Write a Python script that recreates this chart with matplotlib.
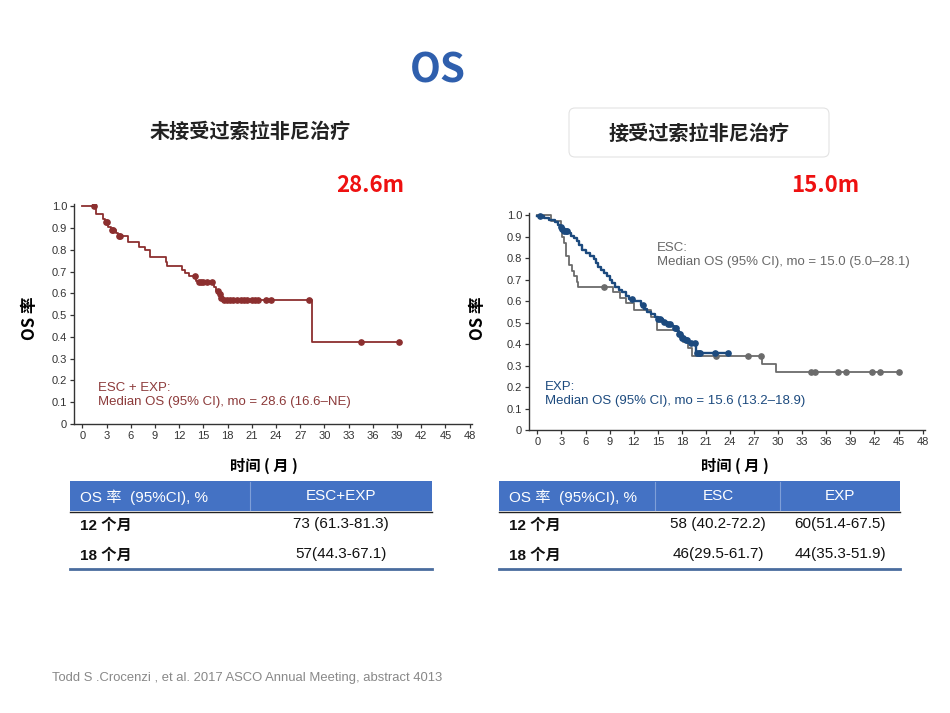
import numpy as np
import matplotlib
matplotlib.use("Agg")
import matplotlib.pyplot as plt
from matplotlib.patches import Rectangle, FancyBboxPatch
from matplotlib.lines import Line2D

plt.rcParams['font.family'] = ['Liberation Sans', 'Noto Sans CJK SC', 'DejaVu Sans']

# ---- data: left panel (ESC + EXP, no prior sorafenib) ----
left_t = [0, 1.7, 2.6, 2.85, 3.2, 3.5, 4.1, 4.4, 5.7, 7.0, 7.8, 8.4, 10.3, 10.5,
          12.3, 12.75, 13.2, 14.1, 14.3, 16.25, 16.6, 16.9, 17.1, 17.3, 28.5, 39.3]
left_s = [1.0, 0.963, 0.943, 0.928, 0.905, 0.889, 0.875, 0.863, 0.835, 0.812, 0.797,
          0.766, 0.743, 0.725, 0.707, 0.695, 0.68, 0.656, 0.65, 0.628, 0.61, 0.595,
          0.58, 0.57, 0.378, 0.378]
left_cens = [1.4, 2.9, 3.05, 3.6, 3.75, 4.5, 4.7, 13.9, 14.4, 14.7, 15.0, 15.4, 16.05,
             16.8, 17.0, 17.2, 17.5, 17.9, 18.3, 18.7, 19.1, 19.6, 20.0, 20.4, 21.0,
             21.4, 21.8, 22.8, 23.4, 28.1, 34.5, 39.25]

# ---- data: right panel (prior sorafenib) ----
esc_t = [0, 1.65, 2.9, 3.1, 3.35, 3.6, 3.95, 4.3, 4.6, 4.95, 5.05, 9.45, 10.3, 11.1,
         12.0, 14.2, 14.9, 17.5, 18.2, 18.8, 19.3, 28.0, 29.7, 45.1]
esc_s = [1.0, 0.975, 0.93, 0.90, 0.87, 0.81, 0.77, 0.74, 0.715, 0.69, 0.667, 0.643,
         0.615, 0.59, 0.56, 0.527, 0.465, 0.44, 0.41, 0.38, 0.345, 0.307, 0.27, 0.27]
esc_cens = [8.3, 22.3, 26.25, 27.8, 34.1, 34.6, 37.4, 38.5, 41.7, 42.7, 45.1]

exp_t = [0, 0.8, 1.5, 2.2, 2.6, 2.8, 3.0, 3.3, 3.9, 4.2, 4.6, 4.9, 5.2, 5.5, 6.0, 6.5,
         7.0, 7.3, 7.6, 7.9, 8.3, 8.7, 9.0, 9.3, 9.7, 10.2, 10.6, 11.0, 11.4, 12.0,
         12.9, 13.3, 13.7, 14.1, 14.6, 15.0, 15.6, 16.2, 16.6, 17.0, 17.4, 17.6, 17.9,
         18.4, 18.9, 19.8, 23.9]
exp_s = [0.995, 0.985, 0.977, 0.969, 0.955, 0.945, 0.935, 0.925, 0.915, 0.905, 0.895,
         0.878, 0.86, 0.84, 0.825, 0.812, 0.795, 0.775, 0.76, 0.745, 0.73, 0.715, 0.70,
         0.685, 0.665, 0.652, 0.64, 0.625, 0.61, 0.60, 0.58, 0.565, 0.55, 0.54, 0.525,
         0.515, 0.505, 0.495, 0.485, 0.475, 0.46, 0.445, 0.43, 0.42, 0.405, 0.357, 0.357]
exp_cens = [0.3, 2.9, 3.1, 3.3, 3.5, 3.7, 11.8, 13.1, 15.0, 15.3, 15.8, 16.3, 16.5,
            17.1, 17.3, 17.6, 17.8, 18.0, 18.2, 18.5, 18.7, 19.2, 19.6, 19.9, 20.1,
            20.3, 22.1, 23.8]

x_ticks = list(range(0, 49, 3))
y_ticks = [0, 0.1, 0.2, 0.3, 0.4, 0.5, 0.6, 0.7, 0.8, 0.9, 1.0]
y_tick_labels = ['0', '0.1', '0.2', '0.3', '0.4', '0.5', '0.6', '0.7', '0.8', '0.9', '1.0']

# ---- table text ----
left_header = ['OS 率  (95%CI), %', 'ESC+EXP']
left_rows = [['12 个月', '73 (61.3-81.3)'], ['18 个月', '57(44.3-67.1)']]
right_header = ['OS 率  (95%CI), %', 'ESC', 'EXP']
right_rows = [['12 个月', '58 (40.2-72.2)', '60(51.4-67.5)'],
              ['18 个月', '46(29.5-61.7)', '44(35.3-51.9)']]

W, H = 950, 713
fig = plt.figure(figsize=(W / 100, H / 100), dpi=100)


def fx(x):
    return x / W


def fy(y):
    return 1 - y / H


def km(ax, t, s, cens, color, lw=1.2):
    ax.step(t, s, where='post', color=color, lw=lw)
    idx = np.searchsorted(t, cens, side='right') - 1
    ax.plot(cens, np.array(s)[idx], 'o', color=color, ms=3.8, lw=0)


def style_axes(ax):
    ax.set_xlim(-1.05, 48.3)
    ax.set_ylim(0, 1.01)
    ax.set_xticks(x_ticks)
    ax.set_yticks(y_ticks)
    ax.set_yticklabels(y_tick_labels)
    for sp in ['top', 'right']:
        ax.spines[sp].set_visible(False)
    for sp in ['left', 'bottom']:
        ax.spines[sp].set_color('#333333')
        ax.spines[sp].set_linewidth(1.0)
    ax.tick_params(direction='out', length=3, width=0.9, labelsize=8,
                   colors='#333333', pad=2)
    ax.patch.set_alpha(0)


# left KM axes
axL = fig.add_axes([fx(74), fy(424), fx(472) - fx(74), fy(204) - fy(424)])
km(axL, left_t, left_s, left_cens, '#8c2f2f', lw=1.3)
style_axes(axL)
axL.text(0.06, 0.19, 'ESC + EXP:\nMedian OS (95% CI), mo = 28.6 (16.6\u2013NE)',
         transform=axL.transAxes, color='#8c3a3a', fontsize=9.5, va='top',
         linespacing=1.15)

# right KM axes
axR = fig.add_axes([fx(529), fy(430), fx(925) - fx(529), fy(213) - fy(430)])
km(axR, esc_t, esc_s, esc_cens, '#6b6b6b', lw=1.3)
km(axR, exp_t, exp_s, exp_cens, '#1c4a7e', lw=1.7)
style_axes(axR)
axR.text(0.323, 0.865, 'ESC:\nMedian OS (95% CI), mo = 15.0 (5.0\u201328.1)',
         transform=axR.transAxes, color='#686868', fontsize=9.5, va='top',
         linespacing=1.15)
axR.text(0.04, 0.225, 'EXP:\nMedian OS (95% CI), mo = 15.6 (13.2\u201318.9)',
         transform=axR.transAxes, color='#1c4a7e', fontsize=9.5, va='top',
         linespacing=1.15)

cjk = ['Noto Sans CJK SC', 'DejaVu Sans']

# titles
fig.text(fx(438), fy(71), 'OS', fontsize=29, fontweight='bold', color='#2f5fad',
         ha='center', va='center', family=cjk)
fig.text(fx(250), fy(131), '未接受过索拉非尼治疗', fontsize=14.5, fontweight='bold',
         color='#222222', ha='center', va='center', family=cjk)
box = FancyBboxPatch((5.69, (H - 157) / 100), 2.60, 0.49,
                     boxstyle='round,pad=0,rounding_size=0.06',
                     transform=fig.dpi_scale_trans, facecolor='white',
                     edgecolor='#e3e3e3', lw=0.8)
fig.add_artist(box)
fig.text(fx(699), fy(133), '接受过索拉非尼治疗', fontsize=14.5, fontweight='bold',
         color='#222222', ha='center', va='center', family=cjk)
fig.text(fx(370), fy(185), '28.6m', fontsize=16, fontweight='bold', color='#ee1111',
         ha='center', va='center', family=cjk)
fig.text(fx(825), fy(185), '15.0m', fontsize=16, fontweight='bold', color='#ee1111',
         ha='center', va='center', family=cjk)

# axis labels
for x in (30, 478):
    fig.text(fx(x), fy(318), 'OS 率', rotation=90, fontsize=12, fontweight='bold',
             ha='center', va='center', family=cjk)
for x in (264, 735):
    fig.text(fx(x), fy(466), '时间 ( 月 )', fontsize=11, fontweight='bold',
             ha='center', va='center', family=cjk)


# tables
def table(x0, x1, dividers, col_centers, header, rows):
    fig.add_artist(Rectangle((fx(x0), fy(511)), fx(x1) - fx(x0), fy(481) - fy(511),
                             transform=fig.transFigure, facecolor='#4472c4',
                             edgecolor='none'))
    for d in dividers:
        fig.add_artist(Line2D([fx(d), fx(d)], [fy(482), fy(510)], color='#7f9fd8',
                              lw=0.8, transform=fig.transFigure))
    fig.add_artist(Line2D([fx(x0), fx(x1)], [fy(511.5), fy(511.5)], color='#222222',
                          lw=1.0, transform=fig.transFigure))
    fig.add_artist(Line2D([fx(x0), fx(x1)], [fy(569), fy(569)], color='#4a6c9e',
                          lw=2.0, transform=fig.transFigure))
    fig.text(fx(x0 + 10), fy(497), header[0], color='white', fontsize=11,
             ha='left', va='center')
    for c, h in zip(col_centers, header[1:]):
        fig.text(fx(c), fy(496), h, color='white', fontsize=11, ha='center',
                 va='center')
    for ry, row in zip((526, 556), rows):
        fig.text(fx(x0 + 10), fy(ry), row[0], fontsize=11, fontweight='bold',
                 ha='left', va='center', color='#111111')
        for c, v in zip(col_centers, row[1:]):
            fig.text(fx(c), fy(ry - 2), v, fontsize=11, ha='center', va='center',
                     color='#111111')


table(70, 432, [250], [341], left_header, left_rows)
table(499, 900, [655, 780], [718, 840], right_header, right_rows)

fig.text(fx(52), fy(678), 'Todd S .Crocenzi , et al. 2017 ASCO Annual Meeting, abstract 4013',
         fontsize=9.4, color='#888888', ha='left', va='center')

fig.savefig('out.png', dpi=100)
